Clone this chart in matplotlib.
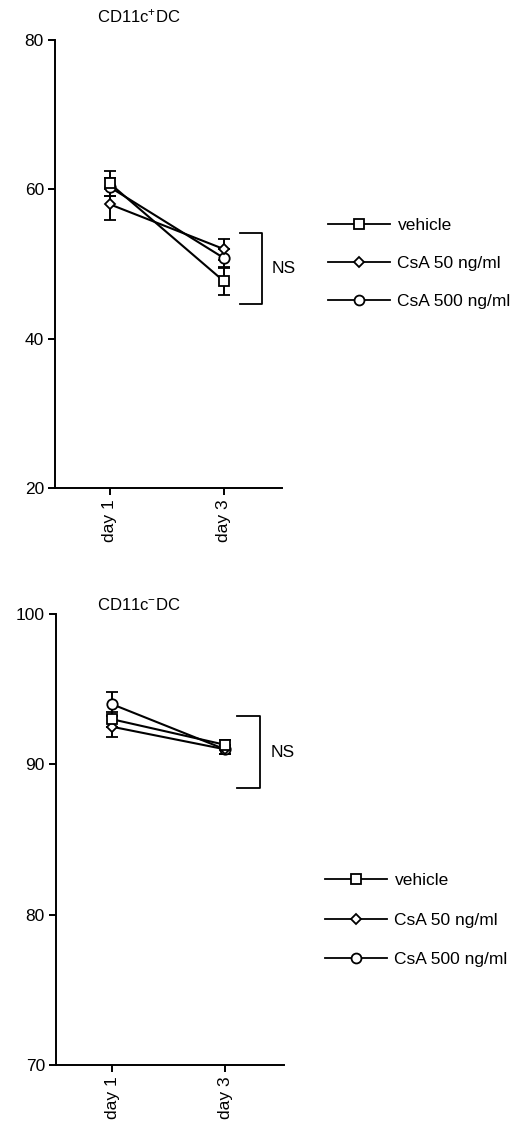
import matplotlib
matplotlib.use("Agg")
import matplotlib.pyplot as plt
from matplotlib.lines import Line2D

plt.rcParams['font.family'] = ['Liberation Sans', 'DejaVu Sans']
plt.rcParams['mathtext.fontset'] = 'custom'
plt.rcParams['mathtext.rm'] = 'Liberation Sans'
plt.rcParams['mathtext.it'] = 'Liberation Sans'
FS = 12.5
TFS = 12
plt.rcParams['font.size'] = FS

days = ["day 1", "day 3"]
series = ["vehicle", "CsA 50 ng/ml", "CsA 500 ng/ml"]
markers = ["s", "D", "o"]
msizes = [7.5, 5.5, 7.5]

# Panel 1: CD11c+ DC
top_vehicle = [60.8, 47.7]
top_vehicle_err = [1.7, 1.8]
top_csa50 = [58.0, 52.0]
top_csa50_err = [2.1, 1.4]
top_csa500 = [60.3, 50.8]
top_csa500_err = [1.2, 1.2]

# Panel 2: CD11c- DC
bot_vehicle = [93.0, 91.3]
bot_vehicle_err = [0.5, 0.3]
bot_csa50 = [92.5, 91.0]
bot_csa50_err = [0.7, 0.3]
bot_csa500 = [94.0, 91.0]
bot_csa500_err = [0.8, 0.3]

W, H = 524, 1122
fig = plt.figure(figsize=(W / 100, H / 100), dpi=100)


def px_axes(left, right, top, bottom):
    return fig.add_axes([left / W, 1 - bottom / H, (right - left) / W, (bottom - top) / H])


def draw_panel(ax, vals, errs, ylim, yticks, xlim, title, title_xy, bracket, ns_x, leg_xy, lsp):
    xs = list(range(len(days)))
    order = [2, 1, 0]
    for i in order:
        ax.errorbar(xs, vals[i], yerr=errs[i], color='black', lw=1.5,
                    marker=markers[i], ms=msizes[i], mfc='white', mec='black', mew=1.3,
                    capsize=4, capthick=1.4, elinewidth=1.4, clip_on=False, zorder=3)
    ax.set_xlim(*xlim)
    ax.set_ylim(*ylim)
    ax.set_yticks(yticks)
    ax.set_xticks(xs)
    ax.set_xticklabels(days, rotation=90)
    for s in ['top', 'right']:
        ax.spines[s].set_visible(False)
    for s in ['left', 'bottom']:
        ax.spines[s].set_linewidth(1.4)
    ax.tick_params(direction='out', length=5, width=1.4, labelsize=FS, pad=3)
    # NS bracket
    bx0, bx1, by0, by1 = bracket
    ax.plot([bx0, bx1, bx1, bx0], [by1, by1, by0, by0], color='black', lw=1.3, clip_on=False)
    ax.text(ns_x, (by0 + by1) / 2, "NS", ha='left', va='center', fontsize=FS)
    fig.text(title_xy[0] / W, 1 - title_xy[1] / H, title, ha='left', va='center', fontsize=TFS)
    handles = [Line2D([0], [0], color='black', lw=1.3, marker=markers[i], ms=msizes[i] * 0.95,
                      mfc='white', mec='black', mew=1.3) for i in range(3)]
    fig.legend(handles, series, loc='upper left',
               bbox_to_anchor=(leg_xy[0] / W, 1 - leg_xy[1] / H),
               bbox_transform=fig.transFigure, frameon=False, numpoints=1,
               handlelength=3.55, handletextpad=0.45, labelspacing=lsp,
               borderpad=0, borderaxespad=0, fontsize=FS)


ax1 = px_axes(55, 282, 40, 488)
draw_panel(ax1, [top_vehicle, top_csa50, top_csa500],
           [top_vehicle_err, top_csa50_err, top_csa500_err],
           (20, 80), [20, 40, 60, 80], (-0.48, 1.51),
           r'CD11c$^{+}$DC', (97, 16),
           (1.14, 1.333, 44.7, 54.1), 1.42, (328, 218), 1.32)

ax2 = px_axes(56, 284, 614, 1065)
draw_panel(ax2, [bot_vehicle, bot_csa50, bot_csa500],
           [bot_vehicle_err, bot_csa50_err, bot_csa500_err],
           (70, 100), [70, 80, 90, 100], (-0.496, 1.522),
           r'CD11c$^{-}$DC', (97, 605),
           (1.106, 1.31, 88.4, 93.2), 1.40, (325, 873), 1.4)

fig.savefig("out.png", dpi=100)
